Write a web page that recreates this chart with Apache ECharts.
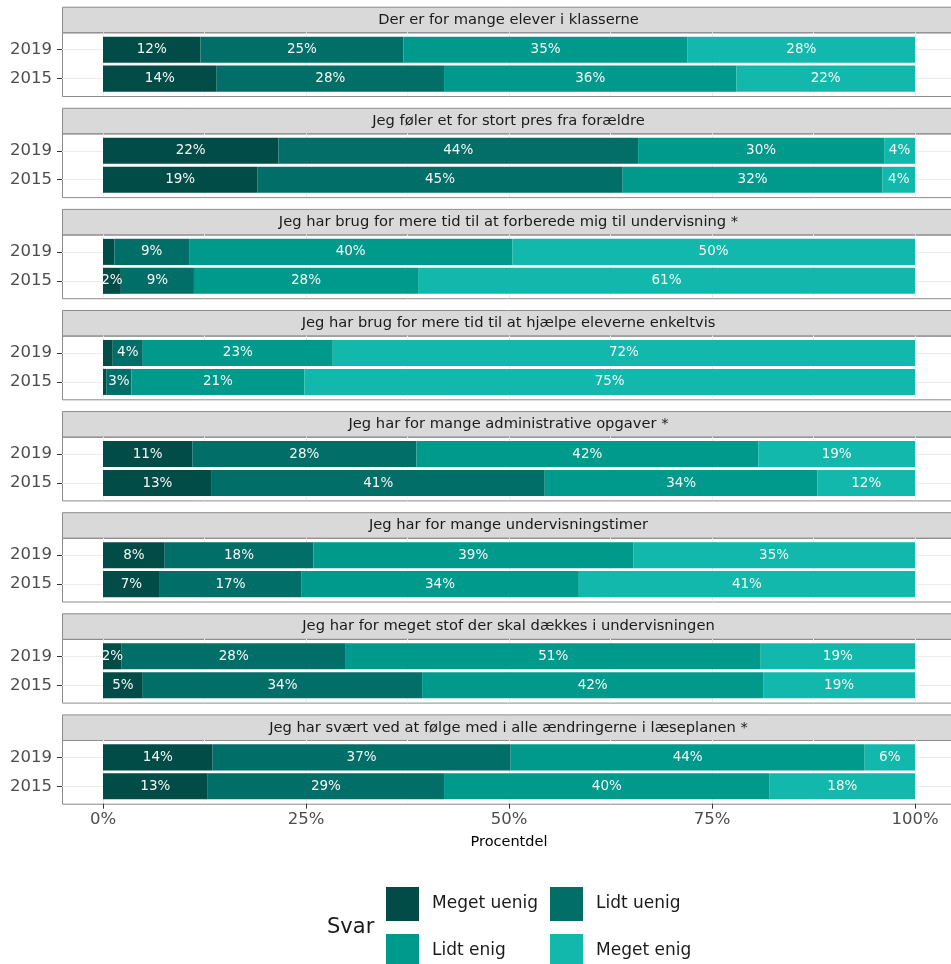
<!DOCTYPE html>
<html><head><meta charset="utf-8">
<script src="https://cdn.jsdelivr.net/npm/echarts@6/dist/echarts.min.js"></script>
<style>html,body{margin:0;padding:0;background:#fff}#c{width:951px;height:964px}</style>
</head><body><div id="c"></div><script>
// ---- data ----
const questions = [
  'Der er for mange elever i klasserne',
  'Jeg føler et for stort pres fra forældre',
  'Jeg har brug for mere tid til at forberede mig til undervisning *',
  'Jeg har brug for mere tid til at hjælpe eleverne enkeltvis',
  'Jeg har for mange administrative opgaver *',
  'Jeg har for mange undervisningstimer',
  'Jeg har for meget stof der skal dækkes i undervisningen',
  'Jeg har svært ved at følge med i alle ændringerne i læseplanen *'
];
const years = ['2019', '2015'];
const answers = ['Meget uenig', 'Lidt uenig', 'Lidt enig', 'Meget enig'];
// each entry: [2019, 2015] percentage per question
const megetUenig = [[12,14],[21.6,19],[1.4,2.2],[1.2,0.4],[11.0,13.4],[7.6,7.0],[2.3,4.9],[13.5,12.9]];
const lidtUenig  = [[25,28],[44.3,45],[9.2,9.0],[3.7,3.1],[27.6,41.0],[18.3,17.4],[27.6,34.4],[36.7,29.1]];
const lidtEnig   = [[35,36],[30.3,32],[39.8,27.6],[23.4,21.3],[42.1,33.6],[39.4,34.2],[51.1,42.0],[43.6,40.1]];
const megetEnig  = [[28,22],[3.8,4],[49.6,61.2],[71.7,75.2],[19.3,12.0],[34.7,41.4],[19.0,18.7],[6.2,17.9]];
const seriesValues = [megetUenig, lidtUenig, lidtEnig, megetEnig];
const xTickMin = 0, xTickMax = 100, xTickInterval = 25;
const axisTitle = 'Procentdel';
const legendTitle = 'Svar';

// ---- style / layout ----
const colors = ['#014c47', '#016e67', '#009a8d', '#12b8ab'];
const FONT = 'DejaVu Sans';
const L = {
  panelLeft: 62, panelWidth: 893, dataLeft: 103, dataWidth: 812,
  top0: 32.3, pitch: 101.1, panelH: 63.7, strip: 25.6
};
const unit = L.panelH / 2.2;

const grid = [], xAxis = [], yAxis = [], series = [], elements = [];
function addGrid(g, xa, ya) {
  const idx = grid.length;
  grid.push(g);
  xa.gridIndex = idx; ya.gridIndex = idx;
  xAxis.push(xa); yAxis.push(ya);
  return idx;
}

questions.forEach((q, i) => {
  const pt = L.top0 + i * L.pitch;
  const last = i === questions.length - 1;
  // strip
  elements.push({ type: 'rect', silent: true, z: 0,
    shape: { x: L.panelLeft + 0.5, y: pt - L.strip + 0.5, width: L.panelWidth, height: L.strip },
    style: { fill: '#d9d9d9', stroke: '#8c8c8c', lineWidth: 1 } });
  elements.push({ type: 'text', silent: true, z: 1,
    x: L.panelLeft + L.panelWidth / 2, y: pt - L.strip / 2 + 0.5,
    style: { text: q, fill: '#1a1a1a', font: '14.7px "DejaVu Sans"', textAlign: 'center', textVerticalAlign: 'middle' } });
  // panel border
  elements.push({ type: 'rect', silent: true, z: 0,
    shape: { x: L.panelLeft + 0.5, y: pt + 0.5, width: L.panelWidth, height: L.panelH },
    style: { fill: 'none', stroke: '#8c8c8c', lineWidth: 1 } });

  // horizontal gridlines + year labels
  addGrid({ left: L.panelLeft, top: pt + 0.6 * unit, width: L.panelWidth, height: unit },
    { type: 'value', min: -5, max: 105, show: false },
    { type: 'category', data: years, inverse: true, boundaryGap: false,
      axisLine: { show: false, onZero: false },
      axisTick: { show: true, length: 5, lineStyle: { color: '#333' } },
      axisLabel: { interval: 0, margin: 10, color: '#4d4d4d', fontSize: 16.5, fontFamily: FONT },
      splitLine: { show: true, lineStyle: { color: '#ebebeb', width: 1 } } });

  // vertical gridlines (+ bottom axis for last panel)
  addGrid({ left: L.dataLeft, top: pt, width: L.dataWidth, height: L.panelH },
    { type: 'value', min: xTickMin, max: xTickMax, interval: xTickInterval,
      axisLine: { show: false, onZero: false },
      axisTick: { show: last, length: 5, lineStyle: { color: '#333' } },
      axisLabel: { show: last, formatter: '{value}%', margin: 8, color: '#4d4d4d', fontSize: 16.5, fontFamily: FONT,
        showMinLabel: true, showMaxLabel: true },
      splitLine: { show: true, lineStyle: { color: '#ebebeb', width: 1 } },
      minorTick: { show: false, splitNumber: 2 },
      minorSplitLine: { show: true, lineStyle: { color: '#f4f4f4', width: 1 } },
      name: last ? axisTitle : '', nameLocation: 'middle', nameGap: 31,
      nameTextStyle: { color: '#000', fontSize: 14.5, fontFamily: FONT } },
    { type: 'value', min: 0, max: 1, show: false });

  // data grid
  const d = addGrid({ left: L.dataLeft, top: pt + 0.1 * unit, width: L.dataWidth, height: 2 * unit },
    { type: 'value', min: xTickMin, max: xTickMax, show: false },
    { type: 'category', data: years, inverse: true, show: false });

  answers.forEach((a, k) => {
    series.push({
      type: 'bar', name: a, xAxisIndex: d, yAxisIndex: d, stack: 'q' + i,
      barWidth: '90%', silent: true,
      data: seriesValues[k][i].slice(),
      itemStyle: { color: colors[k] },
      label: { show: true, position: 'inside', color: '#f7f7f7', fontSize: 13.5, fontFamily: FONT,
        formatter: p => p.value >= 1.5 ? Math.round(p.value) + '%' : '' }
    });
  });
});

// legend title
elements.push({ type: 'text', silent: true, x: 327, y: 928,
  style: { text: legendTitle, fill: '#1a1a1a', font: '21px "DejaVu Sans"', textVerticalAlign: 'middle' } });

const legendPos = [[386, 887], [550, 887], [386, 934], [550, 934]];
const legend = answers.map((a, k) => ({
  data: [a], left: legendPos[k][0], top: legendPos[k][1], padding: 0,
  itemWidth: 33, itemHeight: 34, icon: 'rect', selectedMode: false,
  textStyle: { fontSize: 17, color: '#1a1a1a', fontFamily: FONT, padding: [0, 0, 0, 8] }
}));

const chart = echarts.init(document.getElementById('c'), null, { renderer: 'canvas' });
chart.setOption({
  animation: false,
  backgroundColor: '#fff',
  textStyle: { fontFamily: FONT },
  grid, xAxis, yAxis, series, legend,
  graphic: { elements }
});
</script></body></html>
